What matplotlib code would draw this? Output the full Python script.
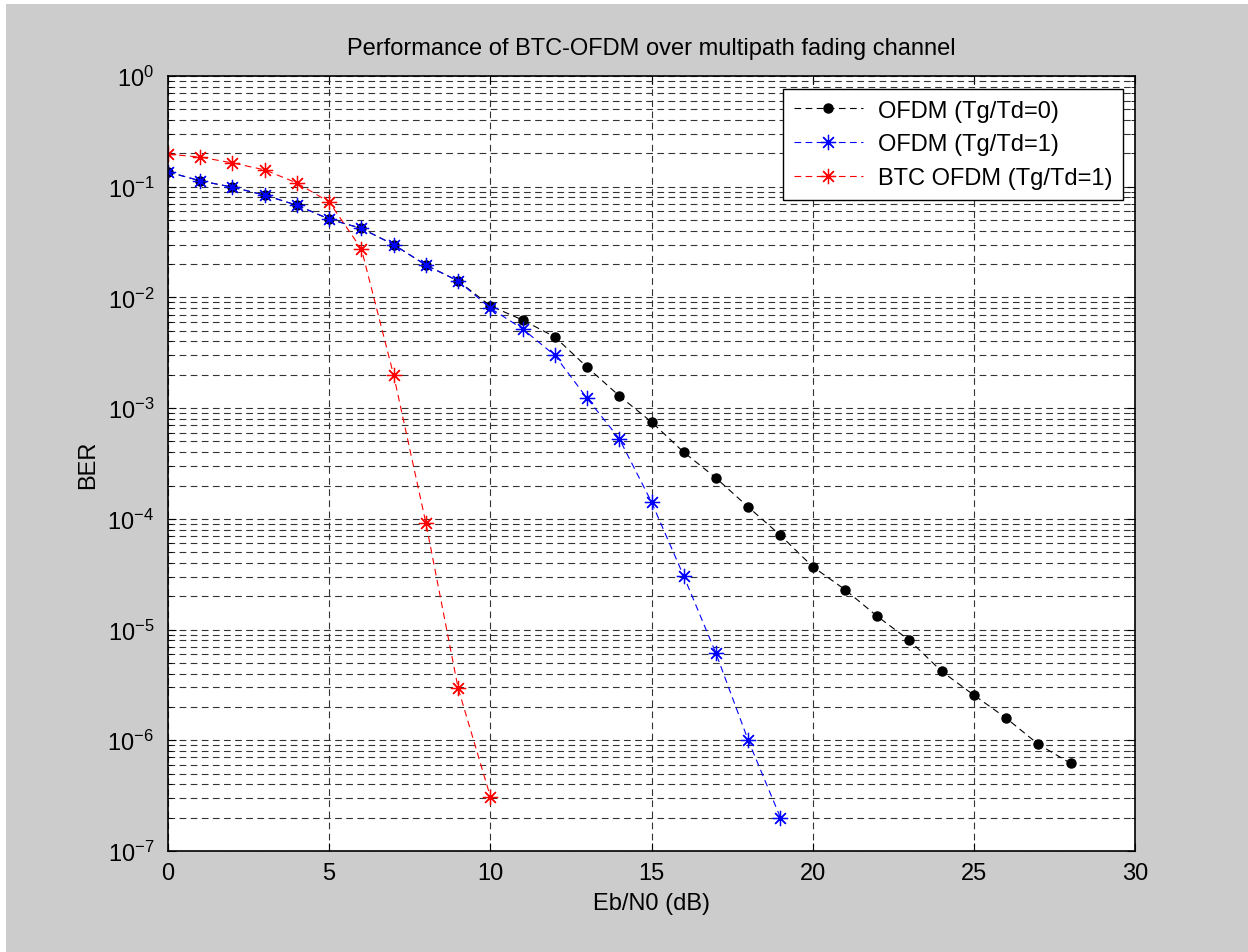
import numpy as np
import matplotlib
matplotlib.use("Agg")
import matplotlib.pyplot as plt
from matplotlib.patches import Rectangle
from matplotlib.ticker import LogLocator, LogFormatterMathtext, MultipleLocator, NullFormatter

plt.rcParams['font.family'] = ['Liberation Sans', 'DejaVu Sans']
plt.rcParams['mathtext.fontset'] = 'custom'
plt.rcParams['mathtext.rm'] = 'Liberation Sans'

# BER curves
snr_ofdm0 = np.arange(0, 29)
ber_ofdm0 = [0.136, 0.113, 0.099, 0.084, 0.068, 0.051, 0.042, 0.030, 0.0196, 0.0141,
             0.0084, 0.00625, 0.0044, 0.00235, 0.00129, 7.5e-4, 4.0e-4, 2.34e-4, 1.28e-4,
             7.1e-5, 3.7e-5, 2.3e-5, 1.32e-5, 8.0e-6, 4.2e-6, 2.56e-6, 1.59e-6, 9.2e-7, 6.2e-7]

snr_ofdm1 = np.arange(0, 20)
ber_ofdm1 = [0.136, 0.113, 0.099, 0.084, 0.068, 0.051, 0.042, 0.030, 0.0196, 0.0141,
             0.0080, 0.0052, 0.0030, 0.00123, 5.3e-4, 1.42e-4, 3.04e-5, 6.1e-6, 1.0e-6, 2.0e-7]

snr_btc = np.arange(0, 11)
ber_btc = [0.197, 0.185, 0.164, 0.142, 0.108, 0.0728, 0.0274, 0.00199, 9.2e-5, 2.96e-6, 3.1e-7]

labels = ['OFDM (Tg/Td=0)', 'OFDM (Tg/Td=1)', 'BTC OFDM (Tg/Td=1)']

W, H = 1248, 953
fig = plt.figure(figsize=(W / 100, H / 100), dpi=100, facecolor='white')
# grey window area
fig.patches.append(Rectangle((6 / W, 0), 1 - 6 / W, 1 - 5 / H, transform=fig.transFigure,
                             facecolor='#cccccc', edgecolor='none', zorder=-10))

ax = fig.add_axes([168 / W, 1 - 852 / H, (1135 - 168) / W, (852 - 77) / H])

dash = (0, (6, 4))
ax.semilogy(snr_ofdm0, ber_ofdm0, color='black', linestyle=dash, linewidth=0.8,
            marker='o', markersize=6.5, markerfacecolor='black', markeredgecolor='black',
            label=labels[0])
ax.semilogy(snr_ofdm1, ber_ofdm1, color='blue', linestyle=dash, linewidth=0.8,
            marker=(8, 2, 0), markersize=11, markeredgewidth=0.9, label=labels[1])
ax.semilogy(snr_btc, ber_btc, color='red', linestyle=dash, linewidth=0.8,
            marker=(8, 2, 0), markersize=11, markeredgewidth=0.9, label=labels[2])

ax.set_xlim(0, 30)
ax.set_ylim(1e-7, 1)
ax.xaxis.set_major_locator(MultipleLocator(5))
ax.yaxis.set_major_locator(LogLocator(base=10, numticks=10))
ax.yaxis.set_major_formatter(LogFormatterMathtext())
ax.yaxis.set_minor_locator(LogLocator(base=10, subs=np.arange(2, 10), numticks=100))
ax.yaxis.set_minor_formatter(NullFormatter())

ax.grid(True, which='major', color='#333333', linestyle=(0, (6, 4)), linewidth=0.8)
ax.grid(True, which='minor', axis='y', color='#333333', linestyle=(0, (6, 4)), linewidth=0.8)
ax.tick_params(which='both', direction='in', top=True, right=True, labelsize=17)
ax.tick_params(axis='x', pad=8)
ax.tick_params(axis='y', pad=10)
ax.tick_params(which='major', length=6)
ax.tick_params(which='minor', length=3)
for s in ax.spines.values():
    s.set_linewidth(1.2)

ax.set_title('Performance of BTC-OFDM over multipath fading channel', fontsize=17, pad=16)
ax.set_xlabel('Eb/N0 (dB)', fontsize=17, labelpad=6)
ax.set_ylabel('BER', fontsize=17, labelpad=6)

leg = ax.legend(loc='upper right', bbox_to_anchor=(0.9876, 0.9832), borderaxespad=0,
                fontsize=17, fancybox=False, framealpha=1, edgecolor='black',
                handlelength=2.9, handletextpad=0.65, borderpad=0.45, labelspacing=0.5)
leg.get_frame().set_linewidth(1.0)

fig.savefig('out.png', dpi=100, facecolor=fig.get_facecolor())
